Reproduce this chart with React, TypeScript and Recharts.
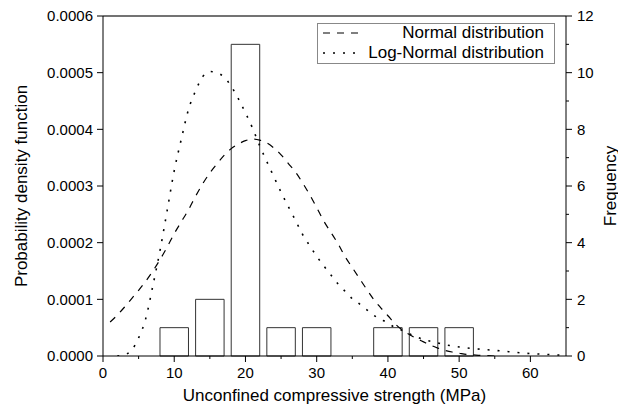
import React from "react";
import {
  ComposedChart,
  Line,
  XAxis,
  YAxis,
  ReferenceArea,
  ReferenceLine,
  Legend,
  Label,
} from "recharts";

// histogram bins (MPa) and counts
const binStart = [8, 13, 18, 23, 28, 38, 43, 48];
const binEnd = [12, 17, 22, 27, 32, 42, 47, 52];
const frequency = [1, 2, 11, 1, 1, 1, 1, 1];

// fitted normal curve
const normalStrength = [
  1, 2, 3, 4, 5, 6, 7, 8, 9, 10, 11, 12, 13, 14, 15, 16, 17, 18, 19, 20, 21, 22, 23, 24, 25, 26, 27, 28,
  29, 30, 31, 32, 33, 34, 35, 36, 37, 38, 39, 40, 41, 42, 43, 44, 45, 46, 47, 48, 49, 50, 51, 52, 53, 54, 55,
];
const normalDensity = [
  0.00006, 0.000072, 0.000086, 0.000101, 0.000116, 0.000132, 0.00015, 0.00017, 0.000192, 0.000216,
  0.000237, 0.000258, 0.000282, 0.000304, 0.000323, 0.000339, 0.000354, 0.000366, 0.000374, 0.00038,
  0.000383, 0.000381, 0.000376, 0.000367, 0.000355, 0.00034, 0.000325, 0.000306, 0.000285, 0.000262,
  0.000238, 0.000218, 0.000198, 0.000175, 0.000156, 0.000137, 0.000118, 0.0001, 0.000085, 0.000071,
  0.000057, 0.000046, 0.000038, 0.000031, 0.000025, 0.000019, 0.000014, 0.00001, 0.000007, 0.000005,
  0.000003, 0.000002, 0.000001, 0.0000005, 0,
];

// fitted log-normal curve
const logNormalStrength = [
  2, 3, 4, 5, 6, 7, 8, 9, 10, 11, 12, 13, 14, 15, 16, 17, 18, 19, 20, 21, 22, 23, 24, 25, 26, 27, 28, 29,
  30, 31, 32, 33, 34, 35, 36, 37, 38, 39, 40, 41, 42, 43, 44, 45, 46, 47, 48, 49, 50, 52, 54, 56, 58, 60,
  62, 64, 65,
];
const logNormalDensity = [
  0, 0.000002, 0.00001, 0.000032, 0.000066, 0.000124, 0.000186, 0.000256, 0.000327, 0.000383, 0.000435,
  0.000468, 0.000493, 0.000502, 0.0005, 0.000492, 0.000476, 0.000454, 0.000429, 0.000402, 0.000371,
  0.000343, 0.000316, 0.000289, 0.000264, 0.00024, 0.000215, 0.000195, 0.000176, 0.000159, 0.000143,
  0.000127, 0.000114, 0.000101, 0.000092, 0.000082, 0.000072, 0.000065, 0.000058, 0.00005, 0.000045,
  0.000039, 0.000034, 0.000029, 0.000026, 0.000023, 0.00002, 0.000018, 0.000016, 0.000013, 0.000011,
  0.0000088, 0.0000064, 0.0000042, 0.000003, 0.0000018, 0.0000015,
];

const seriesNames = ["Normal distribution", "Log-Normal distribution"];

const majorXTicks = [0, 10, 20, 30, 40, 50, 60];
const minorXTicks = [5, 15, 25, 35, 45, 55];
const densityTicks = [0, 0.0001, 0.0002, 0.0003, 0.0004, 0.0005, 0.0006];
const majorFreqTicks = [0, 2, 4, 6, 8, 10, 12];
const minorFreqTicks = [1, 3, 5, 7, 9, 11];

const normalData = normalStrength.map((x, i) => ({ x, y: normalDensity[i] }));
const logNormalData = logNormalStrength.map((x, i) => ({ x, y: logNormalDensity[i] }));
const histData = binStart.map((s, i) => ({ x: (s + binEnd[i]) / 2, count: frequency[i] }));

const DASH = "7 7";
const DOT = "2 8";

const BottomTick = ({ x, y, payload }: any) => {
  const major = majorXTicks.includes(payload.value);
  return (
    <g>
      <line x1={x} x2={x} y1={y} y2={y + (major ? 6 : 3)} stroke="#000" />
      {major && (
        <text x={x} y={y + 11} dy="0.71em" textAnchor="middle" fontSize={15} fill="#000">
          {payload.value}
        </text>
      )}
    </g>
  );
};

const RightTick = ({ x, y, payload }: any) => {
  const major = majorFreqTicks.includes(payload.value);
  return (
    <g>
      <line x1={x} x2={x + (major ? 6 : 3)} y1={y} y2={y} stroke="#000" />
      {major && (
        <text x={x + 11} y={y} dy="0.355em" textAnchor="start" fontSize={15} fill="#000">
          {payload.value}
        </text>
      )}
    </g>
  );
};

const renderLegend = ({ payload }: any) => {
  const items = [...(payload || [])]
    .filter((e: any) => seriesNames.includes(e.value))
    .sort((a: any, b: any) => seriesNames.indexOf(a.value) - seriesNames.indexOf(b.value));
  return (
    <div
      style={{
        boxSizing: "border-box",
        border: "1px solid #888",
        width: 238,
        height: 41,
        background: "#fff",
        position: "relative",
      }}
    >
      {items.map((entry: any, i: number) => {
        const dotted = entry.value === seriesNames[1];
        return (
          <div
            key={entry.value}
            style={{
              position: "absolute",
              left: 0,
              top: i * 20 - 1,
              width: "100%",
              height: 20,
              display: "flex",
              alignItems: "center",
            }}
          >
            <svg width={50} height={20} style={{ display: "block" }}>
              <line
                x1={5}
                x2={43}
                y1={10}
                y2={10}
                stroke="#000"
                strokeWidth={dotted ? 1.6 : 1.2}
                strokeDasharray={dotted ? DOT : DASH}
              />
            </svg>
            <span style={{ marginLeft: "auto", marginRight: 10, fontSize: 17, color: "#000" }}>
              {entry.value}
            </span>
          </div>
        );
      })}
    </div>
  );
};

export default function App() {
  return (
    <div style={{ fontFamily: "'Liberation Sans', Arial, sans-serif" }}>
      <ComposedChart width={618} height={399} margin={{ top: 8, right: 0, bottom: 0, left: 0 }}>
        <XAxis
          dataKey="x"
          type="number"
          domain={[0, 65]}
          ticks={[...majorXTicks, ...minorXTicks].sort((a, b) => a - b)}
          tickLine={false}
          tickSize={0}
          tickMargin={0}
          tick={<BottomTick />}
          axisLine={{ stroke: "#000" }}
          height={51}
          allowDataOverflow
          interval={0}
        >
          <Label
            value="Unconfined compressive strength (MPa)"
            position="insideBottom"
            offset={6}
            style={{ fontSize: 17, fill: "#000" }}
          />
        </XAxis>
        <YAxis
          yAxisId="left"
          domain={[0, 0.0006]}
          ticks={densityTicks}
          tickFormatter={(v: number) => v.toFixed(4)}
          tick={{ fill: "#000", fontSize: 15 }}
          tickLine={{ stroke: "#000" }}
          axisLine={{ stroke: "#000" }}
          tickSize={6}
          tickMargin={4}
          width={95}
          interval={0}
          allowDataOverflow
        >
          <Label
            value="Probability density function"
            angle={-90}
            position="insideLeft"
            offset={13}
            style={{ textAnchor: "middle", fontSize: 17, fill: "#000" }}
          />
        </YAxis>
        <YAxis
          yAxisId="right"
          orientation="right"
          type="number"
          domain={[0, 12]}
          ticks={[...majorFreqTicks, ...minorFreqTicks].sort((a, b) => a - b)}
          tickLine={false}
          tickSize={0}
          tickMargin={0}
          tick={<RightTick />}
          axisLine={{ stroke: "#000" }}
          width={60}
          interval={0}
          allowDataOverflow
        >
          <Label
            value="Frequency"
            angle={-90}
            position="insideRight"
            offset={16}
            style={{ textAnchor: "middle", fontSize: 17, fill: "#000" }}
          />
        </YAxis>
        <ReferenceLine yAxisId="left" y={0.0006} stroke="#444" strokeWidth={1.5} />
        {/* carrier series so the frequency axis has data bound to it */}
        <Line
          yAxisId="right"
          data={histData}
          dataKey="count"
          name="Frequency"
          stroke="none"
          dot={false}
          activeDot={false}
          legendType="none"
          isAnimationActive={false}
        />
        {binStart.map((start, i) => (
          <ReferenceArea
            key={start}
            yAxisId="right"
            x1={start}
            x2={binEnd[i]}
            y1={0}
            y2={frequency[i]}
            fill="none"
            stroke="#333"
            strokeWidth={1}
            ifOverflow="visible"
          />
        ))}
        <Line
          yAxisId="left"
          data={normalData}
          dataKey="y"
          name={seriesNames[0]}
          type="monotone"
          stroke="#000"
          strokeWidth={1.2}
          strokeDasharray={DASH}
          dot={false}
          activeDot={false}
          isAnimationActive={false}
        />
        <Line
          yAxisId="left"
          data={logNormalData}
          dataKey="y"
          name={seriesNames[1]}
          type="monotone"
          stroke="#000"
          strokeWidth={1.6}
          strokeDasharray={DOT}
          dot={false}
          activeDot={false}
          isAnimationActive={false}
        />
        <Legend
          layout="horizontal"
          verticalAlign="middle"
          align="center"
          content={renderLegend}
          wrapperStyle={{ position: "absolute", left: 309, top: 15, width: 238, height: 41 }}
        />
      </ComposedChart>
    </div>
  );
}
